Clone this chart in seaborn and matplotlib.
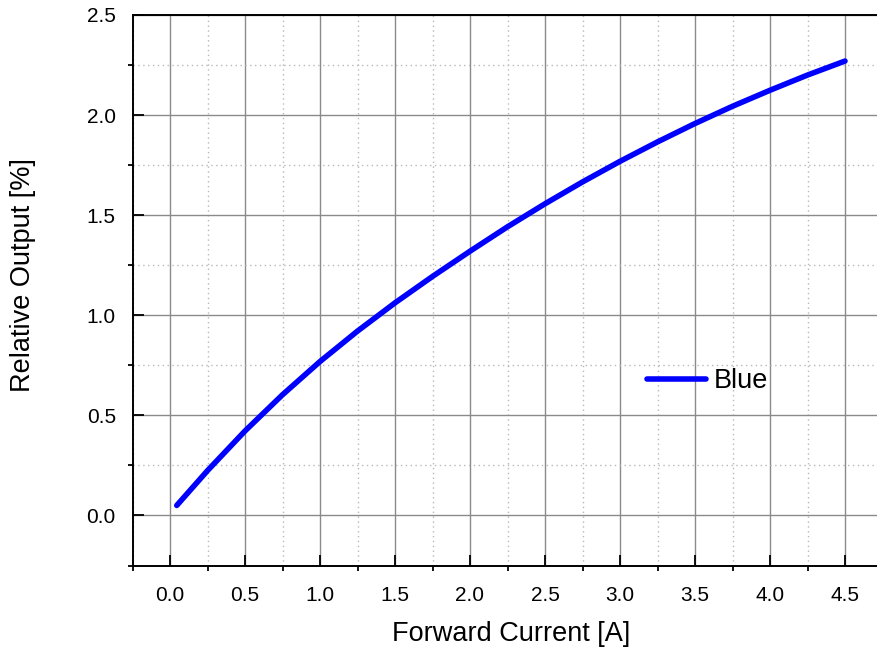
import matplotlib
matplotlib.use("Agg")
import matplotlib.pyplot as plt
from matplotlib.ticker import MultipleLocator
import numpy as np
import pandas as pd
import seaborn as sns

# Data
current_a = [0.045, 0.25, 0.5, 0.75, 1.0, 1.25, 1.5, 1.75, 2.0, 2.25, 2.5,
             2.75, 3.0, 3.25, 3.5, 3.75, 4.0, 4.25, 4.5]
relative_output = [0.05, 0.224, 0.422, 0.603, 0.769, 0.921, 1.062, 1.194, 1.32,
                   1.442, 1.557, 1.666, 1.769, 1.866, 1.958, 2.044, 2.124, 2.2, 2.27]
series_name = "Blue"
x_label = "Forward Current [A]"
y_label = "Relative Output [%]"
x_ticks = [0.0, 0.5, 1.0, 1.5, 2.0, 2.5, 3.0, 3.5, 4.0, 4.5]
y_ticks = [0.0, 0.5, 1.0, 1.5, 2.0, 2.5]

df = pd.DataFrame({"current": current_a, "output": relative_output})

sns.set_theme(style="white")
plt.rcParams["font.family"] = ["Liberation Sans", "DejaVu Sans"]
plt.rcParams["text.color"] = "black"

fig = plt.figure(figsize=(8.77, 6.5), dpi=100)
W, H = 877.0, 650.0
left_px, right_px, top_px, bottom_px = 132.5, 882.5, 15.0, 565.5
ax = fig.add_axes([left_px / W, 1 - bottom_px / H,
                   (right_px - left_px) / W, (bottom_px - top_px) / H])

sns.lineplot(data=df, x="current", y="output", color="#0000FF", linewidth=4.0,
             label=series_name, ax=ax, estimator=None, sort=True)

ax.set_xlim(-0.25, 4.75)
ax.set_ylim(-0.25, 2.5)
ax.xaxis.set_minor_locator(MultipleLocator(0.25))
ax.yaxis.set_minor_locator(MultipleLocator(0.25))
ax.set_xticks(x_ticks)
ax.set_xticklabels([f"{v:.1f}" for v in x_ticks])
ax.set_yticks(y_ticks)
ax.set_yticklabels([f"{v:.1f}" for v in y_ticks])

ax.grid(which="major", color="#8a8a8a", linewidth=1.0, linestyle="-")
ax.grid(which="minor", color="#b8b8b8", linewidth=1.0, linestyle=(0, (1, 2.5)))
ax.set_axisbelow(True)

for s in ["left", "bottom", "top"]:
    ax.spines[s].set_visible(True)
    ax.spines[s].set_color("black")
    ax.spines[s].set_linewidth(1.4)
ax.spines["right"].set_visible(False)

ax.tick_params(axis="both", which="major", direction="in", length=7.7, width=1.3,
               color="black", labelsize=15, labelcolor="black")
ax.tick_params(axis="both", which="minor", direction="out", length=3.3, width=1.3,
               color="black")
ax.tick_params(axis="x", which="major", pad=15, bottom=True, top=False)
ax.tick_params(axis="y", which="major", pad=12, left=True, right=False)
ax.tick_params(axis="x", which="minor", bottom=True, top=False)
ax.tick_params(axis="y", which="minor", left=True, right=False)

ax.set_xlabel(x_label, fontsize=19.5, color="black")
ax.set_ylabel(y_label, fontsize=19.5, color="black")
ax.xaxis.set_label_coords(0.5055, -0.101)
ax.yaxis.set_label_coords(-0.128, 0.527)

leg = ax.legend(loc="center left", bbox_to_anchor=(0.686, 0.335), frameon=False,
                fontsize=19.5, handlelength=2.18, handletextpad=0.3,
                borderpad=0, borderaxespad=0)
for t in leg.get_texts():
    t.set_color("black")

fig.savefig("out.png", dpi=100)
